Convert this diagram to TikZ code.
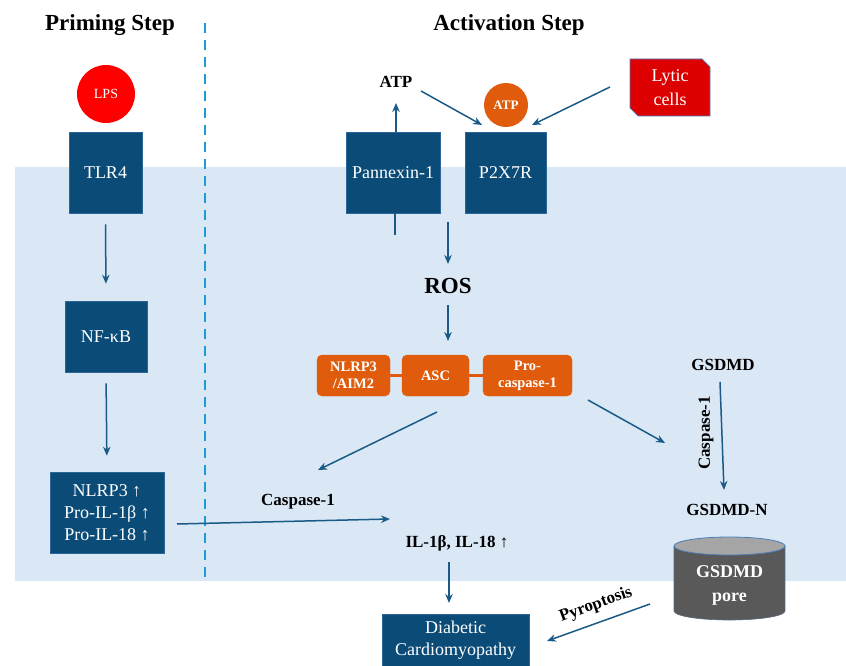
\documentclass[tikz,border=0pt]{standalone}
\usepackage{fontspec}
\setmainfont{Liberation Serif}
\usetikzlibrary{arrows.meta,shapes.geometric}
\definecolor{dkblue}{HTML}{0B4B77}
\definecolor{arrblue}{HTML}{1A5A87}
\definecolor{bgblue}{HTML}{DAE7F5}
\definecolor{dashblue}{HTML}{1F9AD8}
\definecolor{orng}{HTML}{E05C0C}
\definecolor{lpsred}{HTML}{FF0000}
\definecolor{lyticred}{HTML}{DD0000}
\definecolor{poregray}{HTML}{595959}
\definecolor{poretop}{HTML}{A5A5A5}
\definecolor{edgeblue}{HTML}{4A7EBB}
\tikzset{
  bluebox/.style={fill=dkblue, draw=edgeblue!50!dkblue, line width=0.6pt, text=white,
    font=\fontsize{18}{22}\selectfont, inner sep=0pt, align=center},
  orbox/.style={fill=orng, draw=orng, rounded corners=5pt, text=white,
    font=\bfseries\fontsize{14.5}{17}\selectfont, align=center, inner sep=0pt, minimum height=41pt},
  lbl/.style={font=\bfseries\fontsize{17}{20}\selectfont, inner sep=0pt},
  ttl/.style={font=\bfseries\fontsize{23}{26}\selectfont, inner sep=0pt},
  arr/.style={draw=arrblue, line width=1.5pt, -{Stealth[length=9pt,width=7.5pt]}},
  plainline/.style={draw=arrblue, line width=1.5pt},
  orline/.style={draw=orng, line width=2.5pt}
}
\begin{document}
\begin{tikzpicture}[x=1pt,y=-1pt]
\useasboundingbox (0,0) rectangle (846,666);
% background
\fill[bgblue] (15,167) rectangle (846,581);
\draw[dashblue, line width=2.5pt, dash pattern=on 10pt off 7pt] (205,23) -- (205,581);

% titles
\node[ttl] (prim) at (110,25) {Priming Step};
\node[ttl] (act) at (509,25) {Activation Step};

% priming column
\node[circle, fill=lpsred, minimum size=58pt, inner sep=0pt, text=white,
  font=\fontsize{14}{16}\selectfont] (lps) at (106,94) {LPS};
\node[bluebox, minimum width=73pt, minimum height=81pt] (tlr4) at (105.5,172.5) {TLR4};
\node[bluebox, minimum width=82pt, minimum height=71pt] (nfkb) at (106,336.5) {NF-κB};
\node[bluebox, minimum width=114pt, minimum height=81pt] (nlrp3) at (107,512.5)
  {NLRP3 ↑\\Pro-IL-1β ↑\\Pro-IL-18 ↑};
\draw[arr, shorten <=11pt, shorten >=17pt] (tlr4.south) -- (nfkb.north);
\draw[arr, shorten <=11pt, shorten >=16pt] (nfkb.south) -- (nlrp3.north);

% activation: receptors
\node[bluebox, minimum width=94pt, minimum height=81pt] (pan) at (393,172.5) {Pannexin-1};
\node[bluebox, minimum width=81pt, minimum height=81pt] (p2x7r) at (505.5,172.5) {P2X7R};
\node[circle, fill=orng, minimum size=44pt, inner sep=0pt, text=white,
  font=\bfseries\fontsize{13}{15}\selectfont] (atpc) at (506,105) {ATP};
\node[lbl] (atp) at (396,82) {ATP};
\fill[lyticred] (630,59) -- (702,59) -- (710,67) -- (710,116) -- (638,116) -- (630,108) -- cycle;
\draw[edgeblue, line width=0.7pt] (630,59) -- (702,59) -- (710,67) -- (710,116) -- (638,116) -- (630,108) -- cycle;
\node[text=white, align=center, font=\fontsize{18}{24}\selectfont, inner sep=0pt] (lytic) at (670,87.5) {Lytic\\cells};

\coordinate (atpup) at (396,103);
\draw[arr] (pan.north -| atpup) -- (atpup);
\coordinate (panlow) at (395,235);
\draw[plainline] (pan.south -| panlow) -- (panlow);
\coordinate (a2s) at (421,91);
\coordinate (a2e) at (482,125);
\draw[arr] (a2s) -- (a2e);
\coordinate (a3s) at (610,87);
\coordinate (a3e) at (532,125);
\draw[arr] (a3s) -- (a3e);

% ROS
\node[ttl] (ros) at (448,286) {ROS};
\coordinate (r1s) at (448,222);
\coordinate (r1e) at (448,264);
\draw[arr] (r1s) -- (r1e);

% inflammasome
\node[orbox, minimum width=73pt] (nlrp3a) at (353.5,375.5) {NLRP3\\/AIM2};
\node[orbox, minimum width=67pt] (asc) at (435.5,375.5) {ASC};
\node[orbox, minimum width=89pt] (procasp) at (527.5,375.5) {Pro-\\caspase-1};
\draw[orline] (nlrp3a.east) -- (asc.west);
\draw[orline] (asc.east) -- (procasp.west);
\coordinate (r2s) at (448,305);
\coordinate (r2e) at (448,341);
\draw[arr] (r2s) -- (r2e);

\coordinate (c1s) at (437,412);
\coordinate (c1e) at (318,470);
\draw[arr] (c1s) -- (c1e);
\coordinate (c2s) at (588,400);
\coordinate (c2e) at (665,443);
\draw[arr] (c2s) -- (c2e);

% caspase / IL
\node[lbl] (casp) at (298,502) {Caspase-1};
\coordinate (h1s) at (177,524);
\coordinate (h1e) at (390,519);
\draw[arr] (h1s) -- (h1e);
\node[lbl] (il) at (457,543) {IL-1β, IL-18 ↑};
\node[bluebox, minimum width=147pt, minimum height=52pt] (dcm) at (455.5,640) {Diabetic\\Cardiomyopathy};
\coordinate (d1s) at (449,562);
\draw[arr] (d1s) -- (d1s |- 0,603);

% GSDMD
\node[lbl] (gsdmd) at (723,365) {GSDMD};
\node[lbl] (gsdmdn) at (727,510) {GSDMD-N};
\coordinate (g1s) at (720,382);
\coordinate (g1e) at (724,490);
\draw[arr] (g1s) -- (g1e);
\node[lbl, rotate=90] (casp2) at (706,433) {Caspase-1};

% pore
\fill[poregray] (729.5,611) ellipse [x radius=55.5, y radius=9];
\fill[poregray] (674,546) rectangle (785,611);
\draw[edgeblue!40!poregray, line width=0.6pt] (674,546) -- (674,611) arc [start angle=180, end angle=0, x radius=55.5, y radius=9] -- (785,546);
\filldraw[fill=poretop, draw=edgeblue, line width=0.8pt] (729.5,546) ellipse [x radius=55.5, y radius=9];
\node[text=white, align=center, font=\bfseries\fontsize{18}{24}\selectfont, inner sep=0pt] (pore) at (729.5,585) {GSDMD\\pore};

% pyroptosis
\coordinate (p1s) at (650,604);
\coordinate (p1e) at (547,641);
\draw[arr] (p1s) -- (p1e);
\node[lbl, rotate=20] (pyro) at (596,605) {Pyroptosis};
\end{tikzpicture}
\end{document}
